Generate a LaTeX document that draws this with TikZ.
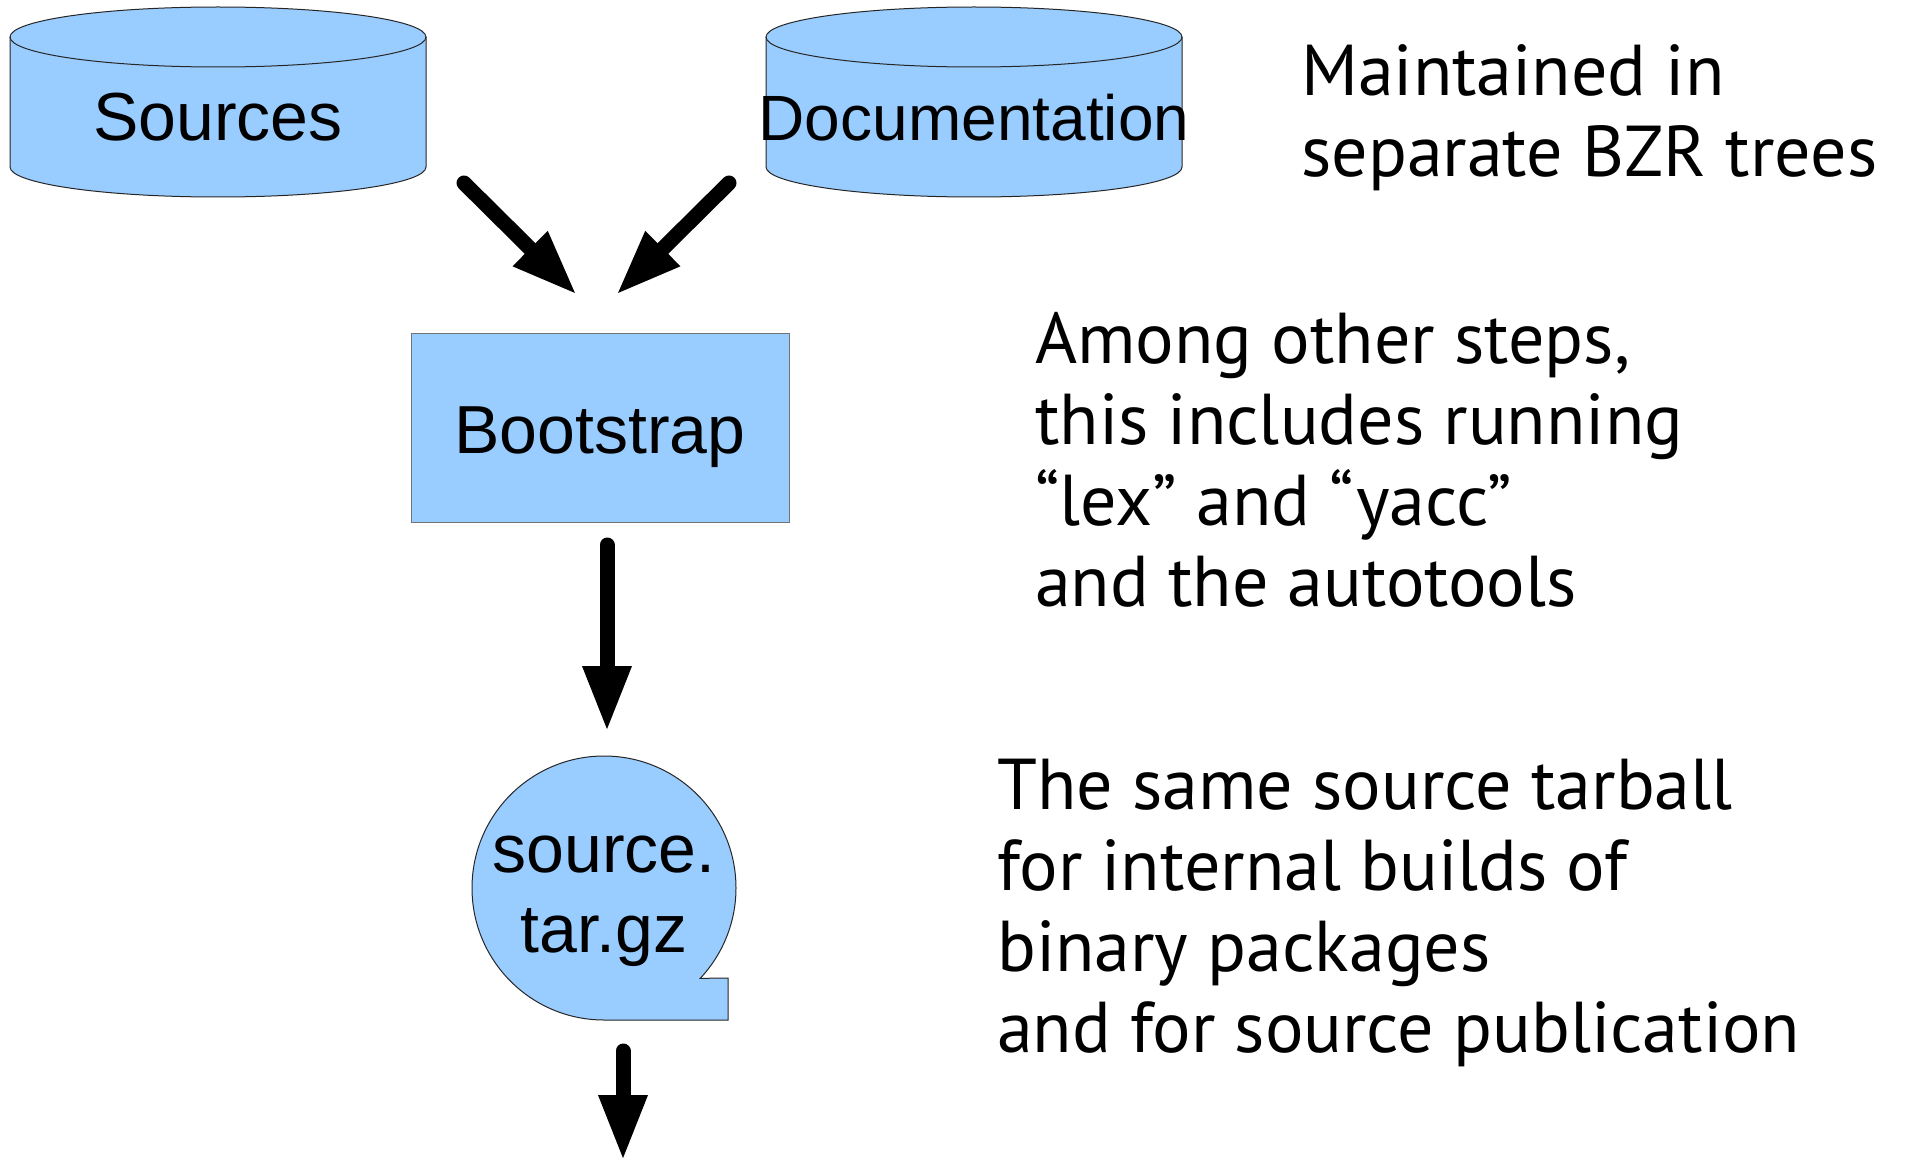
\documentclass[tikz,border=0pt]{standalone}
\usepackage{fontspec}
\setmainfont{Liberation Sans}
\newfontfamily\notefont{PT Sans}
\usepackage{xcolor}
\usepackage{tkz-euclide}
\usetikzlibrary{arrows.meta}
\definecolor{boxblue}{HTML}{99CCFF}

\begin{document}
\begin{tikzpicture}[x=1pt,y=-1pt,
	blockarrow/.style={line width=15pt,-{Triangle[length=66pt,width=45pt]}},
	shapeline/.style={draw=black!85,line width=1pt,fill=boxblue},
	boxtext/.style={inner sep=0pt,anchor=base,font=\fontsize{68}{80}\selectfont},
	remark/.style={inner sep=0pt,anchor=base west,align=left,font=\notefont\fontsize{72}{81}\selectfont}]
	    \useasboundingbox (0,0) rectangle (1907,1161);
	    \fill[white] (0,0) rectangle (1907,1161);

	    % the two BZR trees
	    \path[shapeline] (10,37) -- (10,167) arc (180:0:208 and 30) -- (426,37) arc (0:-180:208 and 30) -- cycle;
	    \draw[shapeline,fill=none] (10,37) arc (180:0:208 and 30);
	    \path[shapeline] (766,37) -- (766,167) arc (180:0:208 and 30) -- (1182,37) arc (0:-180:208 and 30) -- cycle;
	    \draw[shapeline,fill=none] (766,37) arc (180:0:208 and 30);
	    \node[boxtext] (srctxt) at (218,141) {Sources};
	    \node[boxtext,font=\fontsize{64}{80}\selectfont] (doctxt) at (974,141) {Documentation};

	    % bootstrap step
	    \node[shapeline,draw=black!55,rectangle,minimum width=378pt,minimum height=189pt] (boot) at (600,427.5) {};
	    \node[boxtext] (boottxt) at (600,453) {Bootstrap};

	    % tarball
	    \path[shapeline] (604,1020) arc (90:403.2:132) -- (728,978) -- (728,1020) -- cycle;
	    \node[boxtext] (tgztxt1) at (604,872) {source.};
	    \node[boxtext] (tgztxt2) at (604,952) {tar.gz};

	    \tkzDefPoint(464,183){s_1}
	    \tkzDefPoint(577,295){s_2}
	    \tkzDefPoint(729,183){d_1}
	    \tkzDefPoint(616,295){d_2}
	    \tkzDefPoint(607,545){b_1}
	    \tkzDefPoint(607,732){b_2}
	    \tkzDefPoint(623,1051){t_1}
	    \tkzDefPoint(623,1161){t_2}

	    \tkzDrawSegments[blockarrow](s_1,s_2 d_1,d_2)
	    \tkzDrawSegments[blockarrow](b_1,b_2)
	    \tkzDrawSegments[blockarrow](t_1,t_2)

	    % notes on the right (base = last line)
	    \node[remark] (treenote) at (1301,177) {Maintained in\\separate BZR trees};
	    \node[remark] (stepnote) at (1035,606) {Among other steps,\\this includes running\\“lex” and “yacc”\\and the autotools};
	    \node[remark] (tarnote) at (997,1052) {The same source tarball\\for internal builds of\\binary packages\\and for source publication};
\end{tikzpicture}
\end{document}
